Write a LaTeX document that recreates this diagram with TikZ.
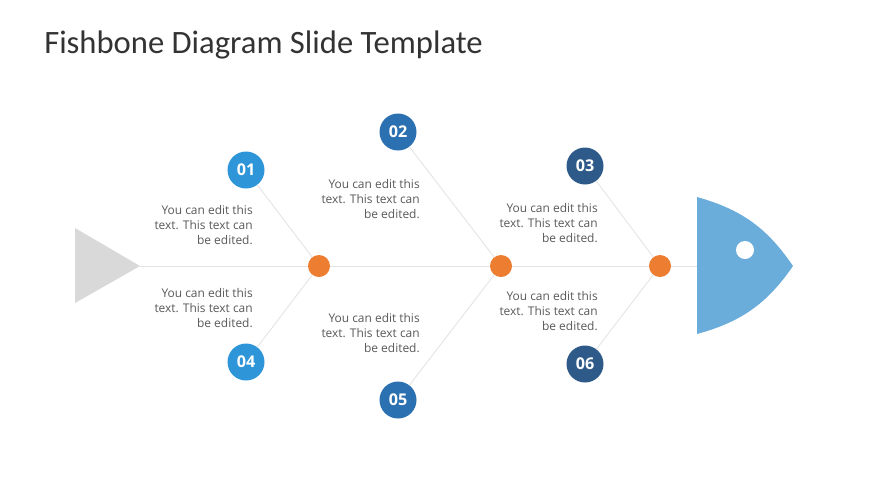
\documentclass[tikz,border=0pt]{standalone}
\usepackage{fontspec}
\setmainfont{Open Sans}
\newfontfamily\titlefont{Carlito}
\definecolor{boneline}{HTML}{E3E3E3}
\definecolor{tailgray}{HTML}{D9D9D9}
\definecolor{headblue}{HTML}{6AADDB}
\definecolor{dotorange}{HTML}{ED7D31}
\definecolor{blueA}{HTML}{2E95D8}
\definecolor{blueB}{HTML}{2B70B0}
\definecolor{blueC}{HTML}{2D5A89}
\definecolor{bodytext}{HTML}{595959}
\tikzset{
  bone/.style={draw=boneline,line width=0.6pt},
  joint/.style={circle,fill=dotorange,minimum size=22\unitpx,inner sep=0pt},
  badge/.style={circle,minimum size=37\unitpx,inner sep=0pt,text=white,
    font=\fontsize{11.5}{13}\selectfont\bfseries},
  note/.style={align=right,anchor=north east,inner sep=0pt,text=bodytext,
    font=\fontsize{8.5}{10.6}\selectfont}
}
\newcommand{\unitpx}{*0.025cm}
\begin{document}
\begin{tikzpicture}[x=0.025cm,y=-0.025cm]
\useasboundingbox[fill=white] (0,0) rectangle (870,489);
% title
\node[anchor=west,inner sep=0pt,text=black!80,font=\titlefont\fontsize{23.2}{26}\selectfont]
  (title) at (44,45) {Fishbone Diagram Slide Template};
% tail and head
\draw[fill=tailgray,draw=none] (75,228) -- (140,266) -- (75,303) -- cycle;
\coordinate (tail) at (140,266);
\coordinate (head) at (697,266);
\draw[fill=headblue,draw=none] (697,197) to[bend left=20] (793,266)
  to[bend left=20] (697,334) -- cycle;
\draw[fill=white,draw=none] (745,250) circle (9);
% joints on the spine
\node[joint] (j1) at (319,266) {};
\node[joint] (j2) at (501,266) {};
\node[joint] (j3) at (660,266) {};
\draw[bone] (tail) -- (j1) -- (j2) -- (j3) -- (head);
% numbered badges
\node[badge,fill=blueA] (b1) at (246,170) {01};
\node[badge,fill=blueB] (b2) at (398,132) {02};
\node[badge,fill=blueC] (b3) at (585,166) {03};
\node[badge,fill=blueA] (b4) at (246,362) {04};
\node[badge,fill=blueB] (b5) at (398,400) {05};
\node[badge,fill=blueC] (b6) at (585,364) {06};
\draw[bone] (b1) -- (j1);
\draw[bone] (b4) -- (j1);
\draw[bone] (b2) -- (j2);
\draw[bone] (b5) -- (j2);
\draw[bone] (b3) -- (j3);
\draw[bone] (b6) -- (j3);
% notes
\node[note] (n1) at (253,205) {You can edit this\\text. This text can\\be edited.};
\node[note] (n2) at (420,179) {You can edit this\\text. This text can\\be edited.};
\node[note] (n3) at (598,203) {You can edit this\\text. This text can\\be edited.};
\node[note] (n4) at (253,288) {You can edit this\\text. This text can\\be edited.};
\node[note] (n5) at (420,313) {You can edit this\\text. This text can\\be edited.};
\node[note] (n6) at (598,291) {You can edit this\\text. This text can\\be edited.};
\end{tikzpicture}
\end{document}
